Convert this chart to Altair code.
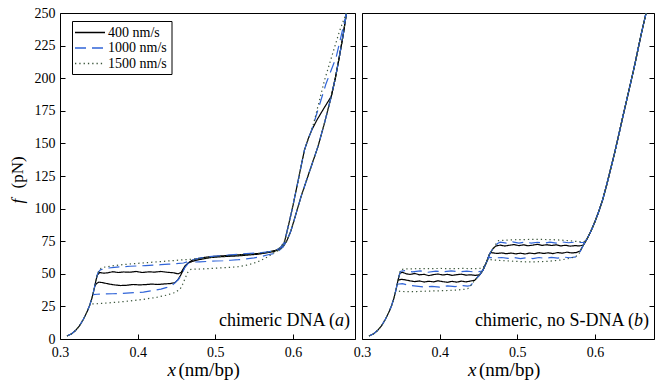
import altair as alt
import pandas as pd

SERIES = ["400 nm/s", "1000 nm/s", "1500 nm/s"]
COLORS = ["#000000", "#3064d8", "#3a553a"]
DASHES = [[1, 0], [11, 6], [1.3, 3]]
XTICKS = [0.3, 0.4, 0.5, 0.6]
YTICKS = [0, 25, 50, 75, 100, 125, 150, 175, 200, 225, 250]

# shared initial rise (both panels)
RISE_X = [0.309, 0.315, 0.320, 0.325, 0.330, 0.335, 0.338, 0.341, 0.3435, 0.346, 0.348]
RISE_F = [2.3, 4.0, 6.5, 10.0, 15.0, 21.0, 25.5, 31.0, 37.0, 44.0, 49.0]

# ---------- panel (a): chimeric DNA ----------
A_BLACK_UP_X = [0.351, 0.356, 0.362, 0.368, 0.375, 0.382, 0.390, 0.398, 0.406, 0.414, 0.422, 0.430, 0.438, 0.446, 0.452,
                0.456, 0.458, 0.461, 0.4656, 0.470, 0.476, 0.485, 0.495, 0.505, 0.515, 0.525, 0.535, 0.545, 0.555, 0.565,
                0.572, 0.578, 0.584, 0.589, 0.595, 0.600, 0.6104, 0.6149, 0.620, 0.6245, 0.631, 0.640, 0.6494, 0.655,
                0.660, 0.665, 0.669]
A_BLACK_UP_F = [51.0, 50.5, 50.8, 51.6, 51.0, 51.4, 51.2, 51.8, 51.0, 51.5, 51.3, 51.8, 51.2, 50.8, 50.0,
                51.0, 53.0, 56.0, 58.5, 60.3, 61.5, 62.5, 63.2, 63.6, 64.0, 64.3, 64.8, 65.2, 65.5, 66.3,
                67.2, 68.0, 70.0, 74.0, 89.0, 102.0, 132.0, 145.0, 154.0, 160.5, 168.0, 177.0, 186.0, 201.0,
                217.0, 234.0, 250.0]
A_RIGHT_X = [0.669, 0.665, 0.660, 0.655, 0.6494, 0.640, 0.632, 0.620, 0.6104, 0.6035, 0.5975, 0.592, 0.587]
A_RIGHT_F = [250.0, 234.0, 217.0, 201.0, 186.0, 164.0, 147.0, 126.0, 109.0, 95.0, 83.0, 75.0, 70.5]
A_BLACK_DN_X = [0.582, 0.575, 0.565, 0.555, 0.545, 0.535, 0.525, 0.515, 0.505, 0.495, 0.485, 0.476, 0.4656, 0.461,
                0.458, 0.4555, 0.452, 0.448, 0.442, 0.434, 0.426, 0.418, 0.410, 0.402, 0.394, 0.386, 0.378, 0.370,
                0.362, 0.355, 0.350, 0.347, 0.3448]
A_BLACK_DN_F = [68.5, 67.0, 66.0, 65.0, 64.5, 64.0, 63.6, 63.3, 63.0, 62.5, 61.5, 60.5, 58.5, 55.5,
                52.0, 49.0, 45.5, 43.2, 42.5, 42.2, 41.8, 42.1, 41.7, 41.5, 41.8, 41.2, 41.0, 41.5,
                42.3, 43.2, 43.6, 42.5, 40.5]
A_BLUE_UP_X = [0.349, 0.352, 0.360, 0.370, 0.380, 0.390, 0.400, 0.410, 0.420, 0.430, 0.440, 0.450, 0.459, 0.466,
               0.472, 0.480, 0.490, 0.500, 0.510, 0.520, 0.530, 0.540, 0.550, 0.560, 0.570, 0.578, 0.584, 0.589,
               0.595, 0.600, 0.6104, 0.6149, 0.6257, 0.6428, 0.6557, 0.662, 0.669]
A_BLUE_UP_F = [51.0, 53.0, 54.3, 55.0, 55.4, 55.8, 56.0, 56.3, 56.6, 57.0, 57.4, 57.8, 58.3, 59.5,
               61.0, 62.0, 63.0, 63.6, 64.0, 64.5, 65.0, 65.4, 65.8, 66.3, 67.0, 68.0, 70.0, 74.0,
               89.0, 102.0, 132.0, 145.0, 163.0, 196.0, 216.0, 232.0, 250.0]
A_BLUE_DN_X = [0.580, 0.575, 0.568, 0.560, 0.550, 0.540, 0.530, 0.520, 0.510, 0.500, 0.490, 0.480, 0.472, 0.4656,
               0.461, 0.457, 0.453, 0.448, 0.444, 0.4377, 0.430, 0.420, 0.4075, 0.395, 0.380, 0.368, 0.356, 0.348,
               0.3425]
A_BLUE_DN_F = [66.5, 65.5, 64.6, 63.3, 62.2, 61.4, 60.8, 60.4, 60.0, 59.8, 59.5, 59.2, 59.0, 58.3,
               55.0, 50.0, 46.0, 43.0, 41.0, 39.6, 38.3, 37.2, 36.0, 35.5, 35.0, 34.7, 34.5, 34.3,
               34.0]
A_DOT_UP_X = [0.350, 0.353, 0.358, 0.370, 0.385, 0.400, 0.415, 0.430, 0.445, 0.458, 0.470, 0.485, 0.500, 0.515,
              0.530, 0.545, 0.560, 0.572, 0.580, 0.585, 0.590, 0.595, 0.600, 0.6104, 0.6149, 0.6257, 0.641, 0.660,
              0.6687]
A_DOT_UP_F = [52.5, 54.3, 55.2, 56.3, 57.3, 58.0, 58.7, 59.4, 60.1, 60.7, 61.2, 62.0, 62.8, 63.6,
              64.3, 65.0, 65.9, 67.0, 68.5, 71.0, 76.0, 89.0, 102.0, 132.0, 145.0, 163.0, 199.0, 236.0,
              250.0]
A_DOT_DN_X = [0.582, 0.578, 0.5676, 0.558, 0.548, 0.538, 0.5289, 0.515, 0.500, 0.485, 0.4686, 0.4645, 0.4615,
              0.458, 0.4545, 0.447, 0.4377, 0.425, 0.4075, 0.390, 0.375, 0.360, 0.346, 0.339]
A_DOT_DN_F = [68.0, 67.0, 63.0, 60.0, 57.8, 56.3, 55.4, 54.8, 54.3, 53.8, 53.4, 51.0, 47.0,
              42.0, 38.0, 35.5, 33.7, 32.0, 30.4, 29.2, 28.3, 27.6, 27.0, 27.0]

# ---------- panel (b): chimeric, no S-DNA ----------
B_TOP_X = [0.585, 0.590, 0.595, 0.600, 0.605, 0.610, 0.615, 0.620, 0.625, 0.630, 0.6357, 0.640, 0.645, 0.650,
           0.655, 0.660, 0.6658]
B_TOP_F = [72.0, 77.0, 83.0, 90.0, 98.0, 107.0, 118.0, 130.0, 142.0, 155.0, 170.0, 181.0, 194.0, 207.0,
           221.0, 235.0, 250.0]
B_BLACK_UP_X = [0.349, 0.352, 0.357, 0.362, 0.368, 0.374, 0.380, 0.386, 0.392, 0.398, 0.404, 0.410, 0.416, 0.422,
                0.428, 0.434, 0.440, 0.446, 0.4513, 0.4555, 0.460, 0.4642, 0.4683, 0.472, 0.478, 0.484, 0.490,
                0.496, 0.502, 0.508, 0.514, 0.520, 0.526, 0.532, 0.538, 0.544, 0.550, 0.556, 0.562, 0.568, 0.574,
                0.580]
B_BLACK_UP_F = [50.5, 51.2, 50.0, 49.5, 50.3, 49.2, 49.6, 48.6, 49.4, 49.8, 49.1, 49.6, 48.8, 49.3,
                49.7, 49.0, 49.2, 48.8, 49.2, 52.5, 58.5, 65.0, 69.0, 71.2, 72.0, 71.3, 71.9,
                72.4, 71.6, 72.2, 71.5, 72.0, 72.6, 71.8, 72.3, 71.7, 72.2, 71.4, 71.9, 71.2, 71.6,
                71.4]
B_BLACK_DN_X = [0.581, 0.576, 0.570, 0.564, 0.558, 0.552, 0.546, 0.540, 0.534, 0.528, 0.522, 0.516, 0.510, 0.504,
                0.498, 0.492, 0.486, 0.480, 0.474, 0.4655, 0.4642, 0.460, 0.4555, 0.4513, 0.445, 0.440, 0.434,
                0.428, 0.422, 0.416, 0.410, 0.404, 0.398, 0.392, 0.386, 0.380, 0.374, 0.368, 0.362, 0.356, 0.351,
                0.3463]
B_BLACK_DN_F = [67.5, 66.3, 66.0, 66.6, 65.8, 66.3, 65.5, 66.1, 65.6, 66.2, 65.4, 65.9, 65.2, 65.8,
                65.3, 65.9, 65.4, 66.0, 65.6, 66.3, 65.0, 58.5, 52.5, 49.0, 45.0, 44.5, 43.8,
                44.4, 43.6, 44.2, 43.5, 44.0, 44.6, 43.8, 44.3, 43.7, 44.5, 44.0, 44.6, 45.3, 45.8,
                45.0]
B_BLUE_UP_X = [0.350, 0.356, 0.365, 0.375, 0.385, 0.395, 0.405, 0.415, 0.425, 0.435, 0.445, 0.4535, 0.4555, 0.460,
               0.4642, 0.4683, 0.472, 0.4745, 0.478, 0.486, 0.494, 0.502, 0.510, 0.518, 0.526, 0.534, 0.542, 0.550,
               0.558, 0.566, 0.574, 0.580, 0.5865]
B_BLUE_UP_F = [52.0, 52.5, 51.5, 52.3, 51.2, 52.0, 51.5, 52.3, 51.6, 52.0, 51.4, 51.8, 52.5, 58.5,
               65.0, 69.0, 71.5, 73.2, 74.2, 73.5, 74.5, 73.6, 74.4, 73.5, 74.2, 73.4, 74.3, 73.6,
               74.4, 73.8, 74.3, 74.0, 74.0]
B_BLUE_DN_X = [0.580, 0.575, 0.568, 0.560, 0.552, 0.544, 0.536, 0.528, 0.520, 0.512, 0.504, 0.496, 0.488, 0.480,
               0.472, 0.4633, 0.460, 0.4555, 0.4513, 0.445, 0.440, 0.436, 0.430, 0.420, 0.410, 0.400, 0.390, 0.380,
               0.370, 0.360, 0.352, 0.345]
B_BLUE_DN_F = [66.0, 63.0, 62.3, 62.8, 62.0, 62.6, 61.8, 62.5, 61.7, 62.3, 61.6, 62.4, 61.8, 62.5,
               62.2, 62.6, 58.5, 52.5, 49.0, 45.0, 41.0, 40.5, 41.0, 40.2, 40.8, 39.8, 40.4, 39.8,
               40.5, 41.2, 42.5, 42.0]
B_DOT_UP_X = [0.349, 0.353, 0.360, 0.370, 0.380, 0.390, 0.400, 0.410, 0.420, 0.430, 0.440, 0.450, 0.4555, 0.460,
              0.4642, 0.4683, 0.472, 0.476, 0.485, 0.500, 0.5242, 0.545, 0.565, 0.5799, 0.585, 0.588]
B_DOT_UP_F = [52.5, 53.6, 53.8, 53.9, 54.0, 54.0, 54.1, 54.0, 54.0, 54.1, 54.0, 54.0, 54.5, 58.5,
              65.0, 69.0, 72.5, 75.5, 75.8, 76.2, 76.4, 76.2, 75.5, 74.6, 74.5, 75.5]
B_DOT_DN_X = [0.580, 0.575, 0.567, 0.555, 0.540, 0.525, 0.511, 0.495, 0.4704, 0.466, 0.462, 0.460, 0.4555, 0.4513,
              0.445, 0.440, 0.436, 0.430, 0.420, 0.410, 0.400, 0.390, 0.380, 0.370, 0.360, 0.350, 0.3435]
B_DOT_DN_F = [66.0, 63.0, 61.8, 60.5, 59.6, 59.2, 59.2, 59.6, 60.5, 60.8, 61.0, 58.5, 52.5, 49.0,
              45.0, 41.0, 38.5, 38.0, 37.5, 37.2, 37.0, 36.8, 36.6, 36.4, 36.3, 36.5, 37.0]

rows = []


def add(panel, series, branch, xs, fs):
    for i, (x, f) in enumerate(zip(xs, fs)):
        rows.append({"panel": panel, "series": series, "branch": branch, "i": i, "x": x, "f": f})


S400, S1000, S1500 = SERIES
add("a", S400, "up", RISE_X + A_BLACK_UP_X, RISE_F + A_BLACK_UP_F)
add("a", S400, "dn", A_RIGHT_X + A_BLACK_DN_X, A_RIGHT_F + A_BLACK_DN_F)
add("a", S1000, "up", RISE_X + A_BLUE_UP_X, RISE_F + A_BLUE_UP_F)
add("a", S1000, "dn", A_RIGHT_X + A_BLUE_DN_X, A_RIGHT_F + A_BLUE_DN_F)
add("a", S1500, "up", RISE_X + A_DOT_UP_X, RISE_F + A_DOT_UP_F)
add("a", S1500, "dn", A_RIGHT_X + A_DOT_DN_X, A_RIGHT_F + A_DOT_DN_F)

add("b", S400, "up", RISE_X + B_BLACK_UP_X + B_TOP_X, RISE_F + B_BLACK_UP_F + B_TOP_F)
add("b", S400, "dn", B_TOP_X[::-1] + B_BLACK_DN_X, B_TOP_F[::-1] + B_BLACK_DN_F)
add("b", S1000, "up", RISE_X + B_BLUE_UP_X + B_TOP_X[1:], RISE_F + B_BLUE_UP_F + B_TOP_F[1:])
add("b", S1000, "dn", B_TOP_X[::-1] + B_BLUE_DN_X, B_TOP_F[::-1] + B_BLUE_DN_F)
add("b", S1500, "up", RISE_X + B_DOT_UP_X + B_TOP_X[1:], RISE_F + B_DOT_UP_F + B_TOP_F[1:])
add("b", S1500, "dn", B_TOP_X[::-1] + B_DOT_DN_X, B_TOP_F[::-1] + B_DOT_DN_F)

df = pd.DataFrame(rows)
legend_df = pd.DataFrame({"series": SERIES})

FONT = "Liberation Serif"
H = 326

color_scale = alt.Scale(domain=SERIES, range=COLORS)
dash_scale = alt.Scale(domain=SERIES, range=DASHES)


def txt(text, x, y, align="left", italic=False, size=18, angle=0):
    return alt.Chart(pd.DataFrame({"t": [text]})).mark_text(
        text=text, align=align, baseline="alphabetic", font=FONT, fontSize=size,
        fontStyle="italic" if italic else "normal", angle=angle, color="black"
    ).encode(x=alt.value(x), y=alt.value(y))


def legend_layers():
    yleg = alt.Y("series:N", scale=alt.Scale(type="point", domain=SERIES, range=[19.5, 50.5], padding=0),
                 axis=None)
    box = alt.Chart(pd.DataFrame({"b": [0]})).mark_rect(fill="white", stroke="black", strokeWidth=1).encode(
        x=alt.value(12.5), x2=alt.value(112), y=alt.value(8.5), y2=alt.value(61.5))
    sym = alt.Chart(legend_df).mark_rule(strokeWidth=1.3).encode(
        x=alt.value(15), x2=alt.value(45), y=yleg,
        color=alt.Color("series:N", scale=color_scale, legend=None),
        strokeDash=alt.StrokeDash("series:N", scale=dash_scale, legend=None))
    lab = alt.Chart(legend_df).mark_text(align="left", baseline="middle", font=FONT, fontSize=14,
                                          color="black").encode(x=alt.value(48), y=yleg, text="series:N")
    return [box, sym, lab]


def panel(name, width, xmax, left_labels, with_legend, label_main, letter):
    data = df[df.panel == name]
    xscale = alt.Scale(domain=[0.3, xmax], nice=False, zero=False)
    yscale = alt.Scale(domain=[0, 250], nice=False)
    xaxis = alt.Axis(values=XTICKS, format=".1f", title=None, orient="bottom", offset=-5, tickSize=5,
                     domain=False, grid=False, labelPadding=6, labelFontSize=14, labelFont=FONT,
                     labelColor="black", tickColor="black", labelFlush=False)
    yaxis_l = alt.Axis(values=YTICKS, title=None, orient="left", offset=-5, tickSize=5, domain=False,
                       grid=False, labels=left_labels, labelPadding=5, labelFontSize=14, labelFont=FONT,
                       labelColor="black", tickColor="black", labelFlush=False)
    yaxis_r = alt.Axis(values=YTICKS, title=None, orient="right", offset=-5, tickSize=5, domain=False,
                       grid=False, labels=False, tickColor="black")
    lines = alt.Chart(data).mark_line(strokeWidth=1.2, clip=True).encode(
        x=alt.X("x:Q", scale=xscale, axis=xaxis),
        y=alt.Y("f:Q", scale=yscale, axis=yaxis_l),
        color=alt.Color("series:N", scale=color_scale, legend=None),
        strokeDash=alt.StrokeDash("series:N", scale=dash_scale, legend=None),
        detail="branch:N",
        order="i:Q",
    )
    right = alt.Chart(data).mark_point(opacity=0).encode(
        x=alt.X("x:Q", scale=xscale, axis=xaxis),
        y=alt.Y("f:Q", scale=yscale, axis=yaxis_r),
    )
    R = width - 5
    layers = [lines, right,
              txt(")", R, 313, align="right"),
              txt(letter, R - 6, 313, align="right", italic=True),
              txt(label_main, R - 15, 313, align="right"),
              txt("x", width / 2 - 40, 363, italic=True, size=19),
              txt("(nm/bp)", width / 2 - 29, 363, size=19)]
    if left_labels:
        layers += [txt("f", -37, 190.5, italic=True, size=17, angle=270),
                   txt("(pN)", -37, 175.5, size=17, angle=270)]
    if with_legend:
        layers += legend_layers()
    return alt.layer(*layers).resolve_scale(y="independent").properties(width=width, height=H)


pa = panel("a", 295, 0.68, True, True, "chimeric DNA (", "a")
pb = panel("b", 292, 0.676, False, False, "chimeric, no S-DNA (", "b")

chart = alt.hconcat(pa, pb, spacing=7, bounds="flush").properties(
    padding={"left": 8, "top": 5, "right": 0, "bottom": 0}, background="white"
).configure_view(stroke="black", strokeWidth=1)

chart.save("out.html", embed_options={"renderer": "svg", "actions": False})
